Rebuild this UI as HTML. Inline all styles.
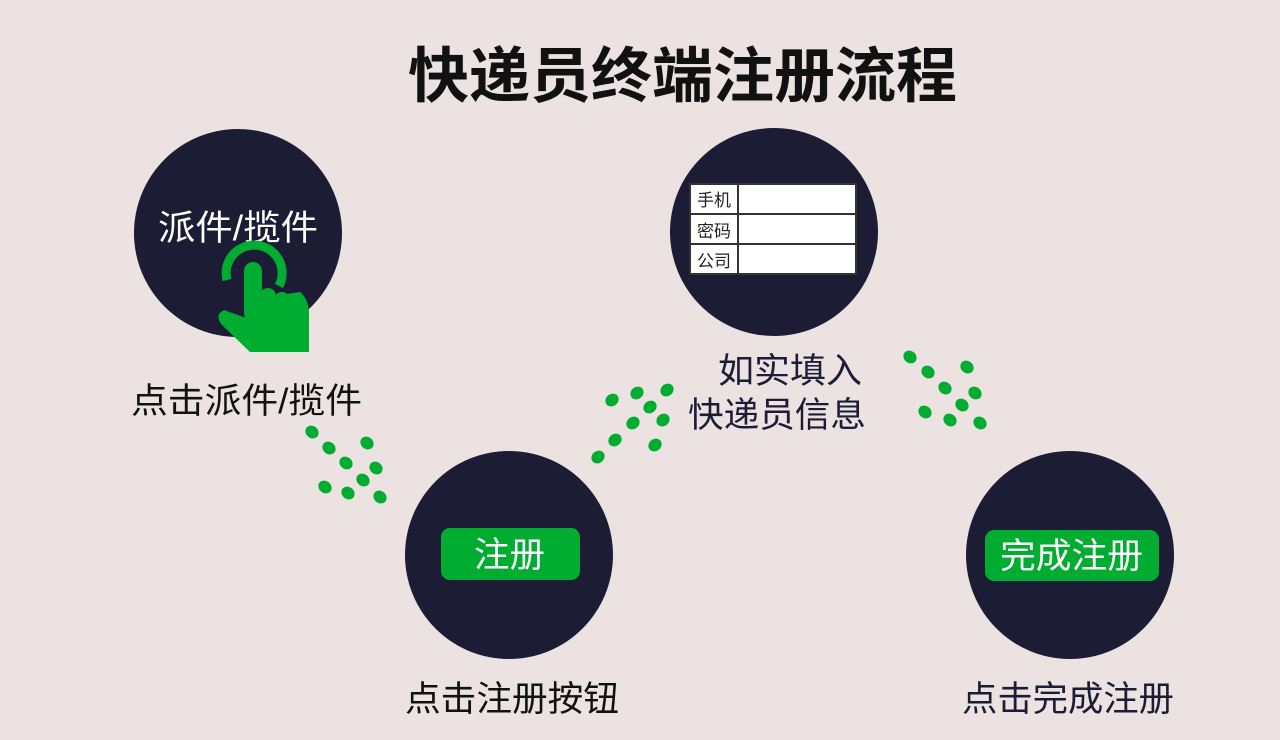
<!DOCTYPE html>
<html><head><meta charset="utf-8"><style>
html,body{margin:0;padding:0;background:#ebe2e1;}
svg{display:block}
text{font-family:"Liberation Sans","Noto Sans CJK SC",sans-serif;}
</style></head><body>
<svg width="1280" height="740" viewBox="0 0 1280 740" xmlns="http://www.w3.org/2000/svg">
<rect width="1280" height="740" fill="#ebe2e1"/>
<text x="408" y="97" font-size="60" font-weight="bold" textLength="549" lengthAdjust="spacingAndGlyphs" fill="#111">快递员终端注册流程</text>
<g fill="#1c1d35">
<circle cx="238" cy="233" r="104"/>
<circle cx="509" cy="555" r="104"/>
<circle cx="774" cy="232" r="104"/>
<circle cx="1070" cy="555" r="104"/>
</g>
<text x="158" y="240" font-size="35" textLength="160" lengthAdjust="spacingAndGlyphs" fill="#fff">派件/揽件</text>
<!-- hand icon -->
<g fill="#00ad30">
<path d="M227 280 A28 28 0 1 1 279 286" fill="none" stroke="#00ad30" stroke-width="9"/>
<rect x="244" y="262" width="18" height="60" rx="9"/>
<path d="M244 300 L300 292 Q310 300 309 318 L309 352 L250 352 L222 325 Q214 315 224 310 L246 318 Z"/>
<rect x="260" y="288" width="16" height="30" rx="8"/>
<rect x="274" y="292" width="16" height="30" rx="8"/>
<rect x="288" y="298" width="16" height="28" rx="8"/>
</g>
<text x="131" y="413" font-size="35" textLength="231" lengthAdjust="spacingAndGlyphs" fill="#111">点击派件/揽件</text>
<!-- table -->
<g stroke="#333" stroke-width="2" fill="#fff">
<rect x="690" y="184" width="166" height="30"/>
<rect x="690" y="214" width="166" height="30"/>
<rect x="690" y="244" width="166" height="30"/>
<line x1="738" y1="184" x2="738" y2="274"/>
</g>
<g font-size="17" fill="#222" text-anchor="middle">
<text x="714" y="206">手机</text>
<text x="714" y="237">密码</text>
<text x="714" y="267">公司</text>
</g>
<text x="718" y="383" font-size="35" textLength="144" lengthAdjust="spacingAndGlyphs" fill="#1c1d35">如实填入</text>
<text x="688" y="427" font-size="35" textLength="178" lengthAdjust="spacingAndGlyphs" fill="#1c1d35">快递员信息</text>
<rect x="441" y="528" width="139" height="52" rx="9" fill="#00ad30"/>
<text x="474" y="567" font-size="35" textLength="71" lengthAdjust="spacingAndGlyphs" fill="#fff">注册</text>
<rect x="985" y="530" width="174" height="51" rx="9" fill="#00ad30"/>
<text x="1000" y="568" font-size="35" textLength="143" lengthAdjust="spacingAndGlyphs" fill="#fff">完成注册</text>
<text x="405" y="711" font-size="35" textLength="214" lengthAdjust="spacingAndGlyphs" fill="#111">点击注册按钮</text>
<text x="962" y="711" font-size="35" textLength="212" lengthAdjust="spacingAndGlyphs" fill="#1c1d35">点击完成注册</text>
<g fill="#00ad30">
<ellipse cx="312" cy="432" rx="7" ry="6" transform="rotate(40 312 432)"/>
<ellipse cx="329" cy="448" rx="7" ry="6" transform="rotate(40 329 448)"/>
<ellipse cx="367" cy="443" rx="7" ry="6" transform="rotate(40 367 443)"/>
<ellipse cx="346" cy="463" rx="7" ry="6" transform="rotate(40 346 463)"/>
<ellipse cx="376" cy="468" rx="7" ry="6" transform="rotate(40 376 468)"/>
<ellipse cx="363" cy="480" rx="7" ry="6" transform="rotate(40 363 480)"/>
<ellipse cx="325" cy="487" rx="7" ry="6" transform="rotate(40 325 487)"/>
<ellipse cx="348" cy="493" rx="7" ry="6" transform="rotate(40 348 493)"/>
<ellipse cx="380" cy="497" rx="7" ry="6" transform="rotate(40 380 497)"/>
<ellipse cx="612" cy="400" rx="7" ry="6" transform="rotate(-40 612 400)"/>
<ellipse cx="637" cy="393" rx="7" ry="6" transform="rotate(-40 637 393)"/>
<ellipse cx="667" cy="390" rx="7" ry="6" transform="rotate(-40 667 390)"/>
<ellipse cx="650" cy="407" rx="7" ry="6" transform="rotate(-40 650 407)"/>
<ellipse cx="633" cy="423" rx="7" ry="6" transform="rotate(-40 633 423)"/>
<ellipse cx="663" cy="420" rx="7" ry="6" transform="rotate(-40 663 420)"/>
<ellipse cx="615" cy="440" rx="7" ry="6" transform="rotate(-40 615 440)"/>
<ellipse cx="655" cy="445" rx="7" ry="6" transform="rotate(-40 655 445)"/>
<ellipse cx="598" cy="457" rx="7" ry="6" transform="rotate(-40 598 457)"/>
<ellipse cx="910" cy="357" rx="7" ry="6" transform="rotate(40 910 357)"/>
<ellipse cx="928" cy="372" rx="7" ry="6" transform="rotate(40 928 372)"/>
<ellipse cx="967" cy="367" rx="7" ry="6" transform="rotate(40 967 367)"/>
<ellipse cx="945" cy="388" rx="7" ry="6" transform="rotate(40 945 388)"/>
<ellipse cx="975" cy="393" rx="7" ry="6" transform="rotate(40 975 393)"/>
<ellipse cx="962" cy="405" rx="7" ry="6" transform="rotate(40 962 405)"/>
<ellipse cx="925" cy="412" rx="7" ry="6" transform="rotate(40 925 412)"/>
<ellipse cx="950" cy="420" rx="7" ry="6" transform="rotate(40 950 420)"/>
<ellipse cx="980" cy="423" rx="7" ry="6" transform="rotate(40 980 423)"/>
</g>
</svg>
</body></html>
